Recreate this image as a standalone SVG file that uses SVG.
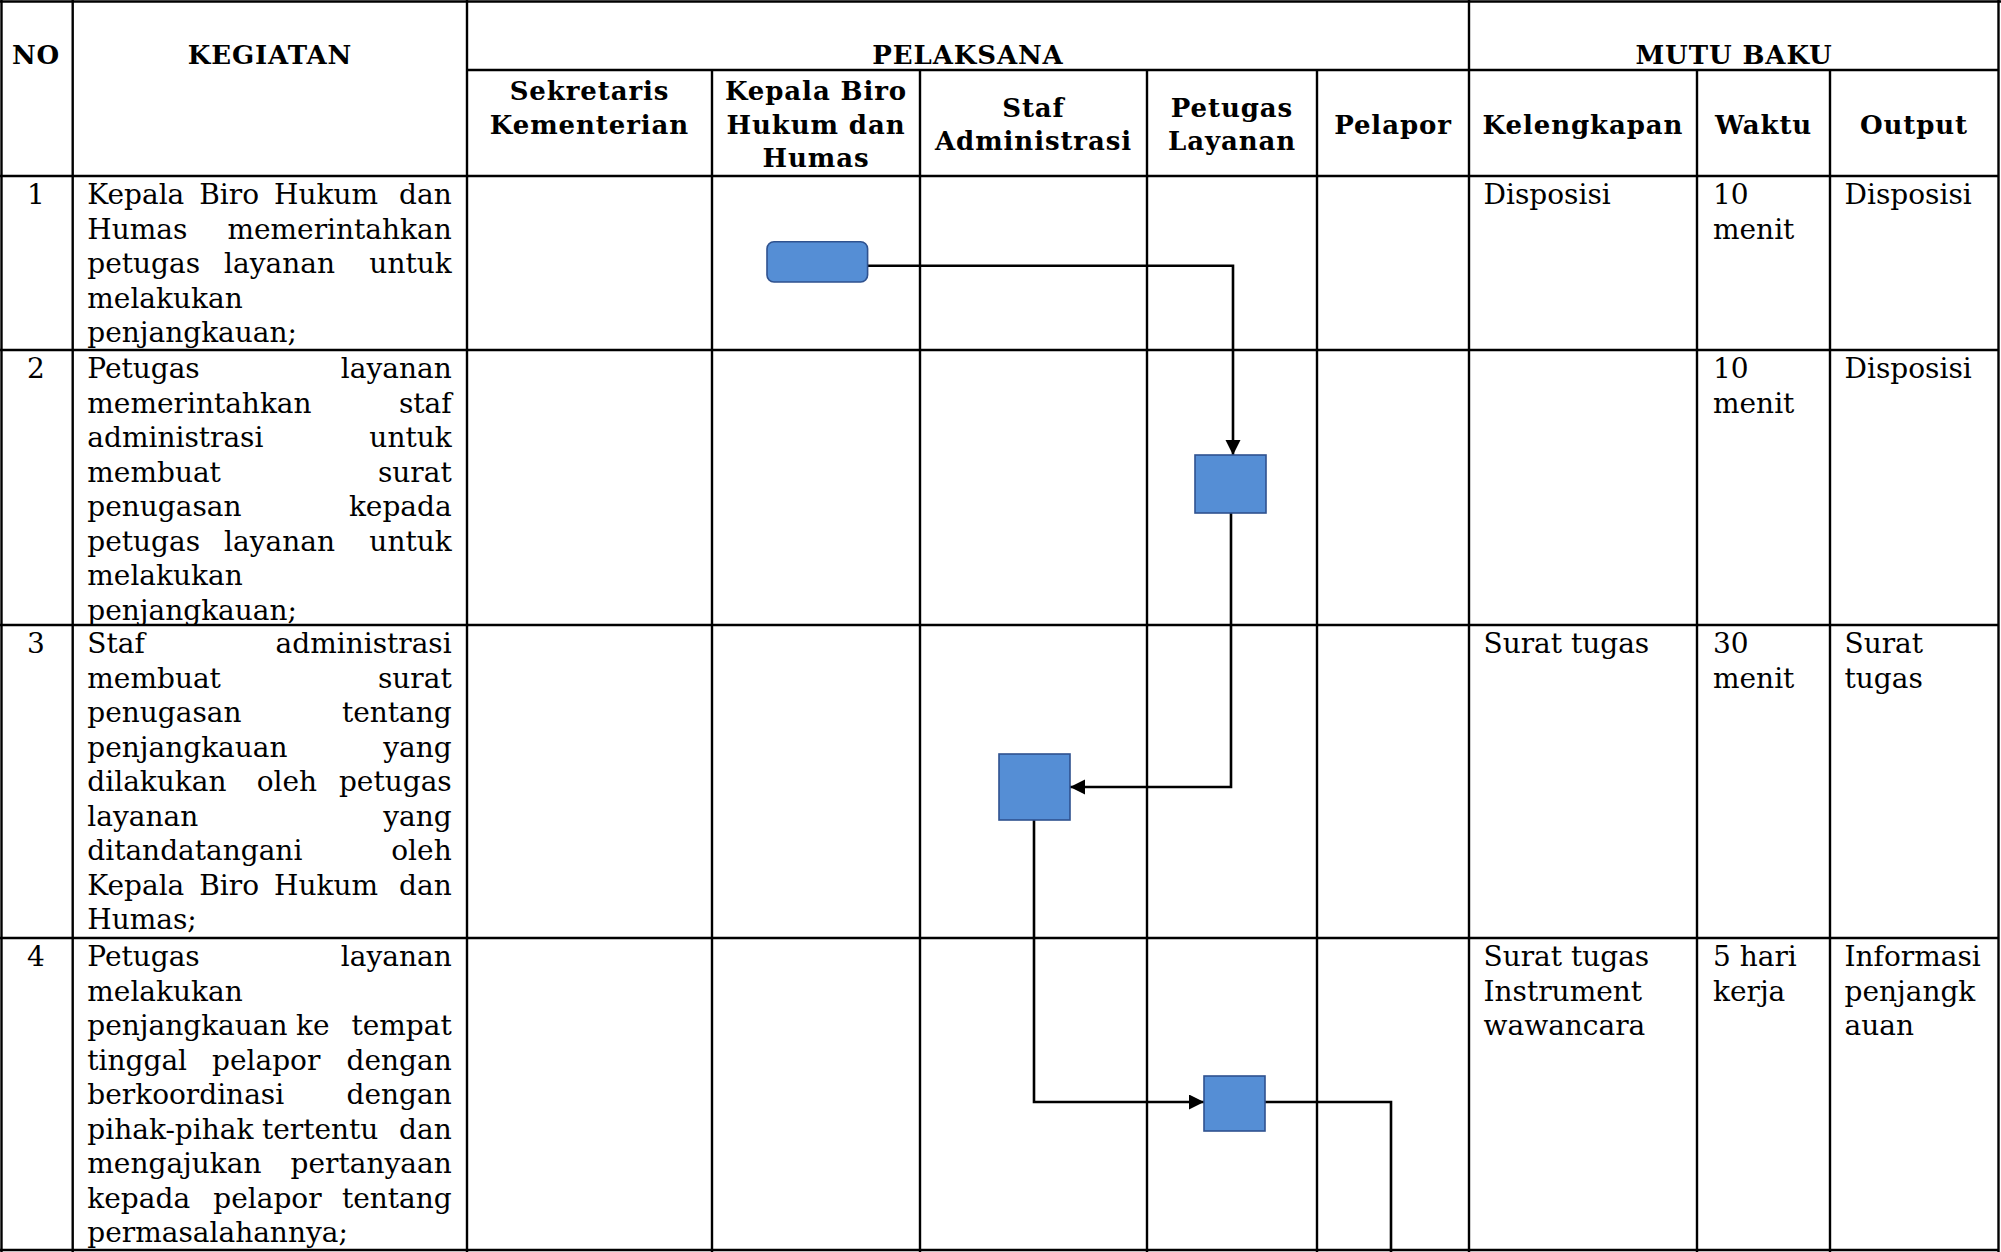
<svg xmlns="http://www.w3.org/2000/svg" width="2001" height="1252" viewBox="0 0 2001 1252">
<style>
.t{font-family:"DejaVu Serif","Liberation Serif",serif;font-size:28px;fill:#000}
.h{font-family:"DejaVu Serif","Liberation Serif",serif;font-size:26px;font-weight:bold;letter-spacing:0.9px;fill:#000;text-anchor:middle}
.c{text-anchor:middle}
.r{text-anchor:end}
.grid line{stroke:#000;stroke-width:2.4}
.node{fill:#558ED5;stroke:#2F528F;stroke-width:1.6}
.conn{fill:none;stroke:#000;stroke-width:2.6}
</style>
<defs>
<marker id="arr" markerUnits="userSpaceOnUse" markerWidth="16" markerHeight="16" refX="15" refY="7.5" orient="auto">
<path d="M0,0 L15,7.5 L0,15 z" fill="#000"/>
</marker>
</defs>
<rect x="0" y="0" width="2001" height="1252" fill="#fff"/>
<g id="table" class="grid">
<line x1="0" y1="1.5" x2="2001" y2="1.5"/>
<line x1="467" y1="70" x2="1999" y2="70"/>
<line x1="0" y1="176" x2="1999" y2="176"/>
<line x1="0" y1="350" x2="1999" y2="350"/>
<line x1="0" y1="625" x2="1999" y2="625"/>
<line x1="0" y1="938" x2="1999" y2="938"/>
<line x1="0" y1="1250" x2="1999" y2="1250"/>
<line x1="1.5" y1="0" x2="1.5" y2="1252"/>
<line x1="72.7" y1="0" x2="72.7" y2="1252"/>
<line x1="467" y1="0" x2="467" y2="1252"/>
<line x1="1469" y1="0" x2="1469" y2="1252"/>
<line x1="1998.5" y1="0" x2="1998.5" y2="1252"/>
<line x1="712" y1="70" x2="712" y2="1252"/>
<line x1="920" y1="70" x2="920" y2="1252"/>
<line x1="1147" y1="70" x2="1147" y2="1252"/>
<line x1="1317" y1="70" x2="1317" y2="1252"/>
<line x1="1697" y1="70" x2="1697" y2="1252"/>
<line x1="1830" y1="70" x2="1830" y2="1252"/>
</g>
<g id="header">
<text class="h" x="36" y="64">NO</text>
<text class="h" x="270" y="64">KEGIATAN</text>
<text class="h" x="968" y="64">PELAKSANA</text>
<text class="h" x="1734" y="64">MUTU BAKU</text>
<text class="h" x="589.5" y="100">Sekretaris</text>
<text class="h" x="589.5" y="133.5">Kementerian</text>
<text class="h" x="816" y="100">Kepala Biro</text>
<text class="h" x="816" y="133.5">Hukum dan</text>
<text class="h" x="816" y="167">Humas</text>
<text class="h" x="1033.5" y="116.5">Staf</text>
<text class="h" x="1033.5" y="150">Administrasi</text>
<text class="h" x="1232" y="116.5">Petugas</text>
<text class="h" x="1232" y="150">Layanan</text>
<text class="h" x="1393" y="133.5">Pelapor</text>
<text class="h" x="1583" y="133.5">Kelengkapan</text>
<text class="h" x="1763.5" y="133.5">Waktu</text>
<text class="h" x="1914" y="133.5">Output</text>
</g>
<g id="row1">
<text class="t c" x="36" y="204">1</text>
<text class="t" y="204"><tspan x="87.3">Kepala</tspan><tspan x="199.3">Biro</tspan><tspan x="274">Hukum</tspan><tspan class="r" x="451.7">dan</tspan></text>
<text class="t" y="238.6"><tspan x="87.3">Humas</tspan><tspan class="r" x="451.7">memerintahkan</tspan></text>
<text class="t" y="273.2"><tspan x="87.3">petugas</tspan><tspan x="224">layanan</tspan><tspan class="r" x="451.7">untuk</tspan></text>
<text class="t" x="87.3" y="307.8">melakukan</text>
<text class="t" x="87.3" y="342.4">penjangkauan;</text>
<text class="t" x="1483.5" y="204">Disposisi</text>
<text class="t" x="1713" y="204">10</text>
<text class="t" x="1713" y="238.6">menit</text>
<text class="t" x="1844.5" y="204">Disposisi</text>
</g>
<g id="row2">
<text class="t c" x="36" y="378">2</text>
<text class="t" y="378"><tspan x="87.3">Petugas</tspan><tspan class="r" x="451.7">layanan</tspan></text>
<text class="t" y="412.5"><tspan x="87.3">memerintahkan</tspan><tspan class="r" x="451.7">staf</tspan></text>
<text class="t" y="447"><tspan x="87.3">administrasi</tspan><tspan class="r" x="451.7">untuk</tspan></text>
<text class="t" y="481.5"><tspan x="87.3">membuat</tspan><tspan class="r" x="451.7">surat</tspan></text>
<text class="t" y="516"><tspan x="87.3">penugasan</tspan><tspan class="r" x="451.7">kepada</tspan></text>
<text class="t" y="550.5"><tspan x="87.3">petugas</tspan><tspan x="224">layanan</tspan><tspan class="r" x="451.7">untuk</tspan></text>
<text class="t" x="87.3" y="585">melakukan</text>
<text class="t" x="87.3" y="619.5">penjangkauan;</text>
<text class="t" x="1713" y="378">10</text>
<text class="t" x="1713" y="412.5">menit</text>
<text class="t" x="1844.5" y="378">Disposisi</text>
</g>
<g id="row3">
<text class="t c" x="36" y="653">3</text>
<text class="t" y="653"><tspan x="87.3">Staf</tspan><tspan class="r" x="451.7">administrasi</tspan></text>
<text class="t" y="687.5"><tspan x="87.3">membuat</tspan><tspan class="r" x="451.7">surat</tspan></text>
<text class="t" y="722"><tspan x="87.3">penugasan</tspan><tspan class="r" x="451.7">tentang</tspan></text>
<text class="t" y="756.5"><tspan x="87.3">penjangkauan</tspan><tspan class="r" x="451.7">yang</tspan></text>
<text class="t" y="791"><tspan x="87.3">dilakukan</tspan><tspan x="256.7">oleh</tspan><tspan class="r" x="451.7">petugas</tspan></text>
<text class="t" y="825.5"><tspan x="87.3">layanan</tspan><tspan class="r" x="451.7">yang</tspan></text>
<text class="t" y="860"><tspan x="87.3">ditandatangani</tspan><tspan class="r" x="451.7">oleh</tspan></text>
<text class="t" y="894.5"><tspan x="87.3">Kepala</tspan><tspan x="199.3">Biro</tspan><tspan x="274">Hukum</tspan><tspan class="r" x="451.7">dan</tspan></text>
<text class="t" x="87.3" y="929">Humas;</text>
<text class="t" x="1483.5" y="653">Surat tugas</text>
<text class="t" x="1713" y="653">30</text>
<text class="t" x="1713" y="687.5">menit</text>
<text class="t" x="1844.5" y="653">Surat</text>
<text class="t" x="1844.5" y="687.5">tugas</text>
</g>
<g id="row4">
<text class="t c" x="36" y="966">4</text>
<text class="t" y="966"><tspan x="87.3">Petugas</tspan><tspan class="r" x="451.7">layanan</tspan></text>
<text class="t" x="87.3" y="1000.5">melakukan</text>
<text class="t" y="1035"><tspan x="87.3">penjangkauan</tspan><tspan x="296">ke</tspan><tspan class="r" x="451.7">tempat</tspan></text>
<text class="t" y="1069.5"><tspan x="87.3">tinggal</tspan><tspan x="212">pelapor</tspan><tspan class="r" x="451.7">dengan</tspan></text>
<text class="t" y="1104"><tspan x="87.3">berkoordinasi</tspan><tspan class="r" x="451.7">dengan</tspan></text>
<text class="t" y="1138.5"><tspan x="87.3">pihak-pihak</tspan><tspan x="262">tertentu</tspan><tspan class="r" x="451.7">dan</tspan></text>
<text class="t" y="1173"><tspan x="87.3">mengajukan</tspan><tspan class="r" x="451.7">pertanyaan</tspan></text>
<text class="t" y="1207.5"><tspan x="87.3">kepada</tspan><tspan x="213.3">pelapor</tspan><tspan class="r" x="451.7">tentang</tspan></text>
<text class="t" x="87.3" y="1242">permasalahannya;</text>
<text class="t" x="1483.5" y="966">Surat tugas</text>
<text class="t" x="1483.5" y="1000.5">Instrument</text>
<text class="t" x="1483.5" y="1035">wawancara</text>
<text class="t" x="1713" y="966">5 hari</text>
<text class="t" x="1713" y="1000.5">kerja</text>
<text class="t" x="1844.5" y="966">Informasi</text>
<text class="t" x="1844.5" y="1000.5">penjangk</text>
<text class="t" x="1844.5" y="1035">auan</text>
</g>
<g id="connectors">
<path class="conn" d="M868,265.7 H1233 V455" marker-end="url(#arr)"/>
<path class="conn" d="M1231,513 V787 H1070" marker-end="url(#arr)"/>
<path class="conn" d="M1034,820 V1102 H1204" marker-end="url(#arr)"/>
<path class="conn" d="M1265,1102 H1391 V1252"/>
</g>
<g id="node1"><rect class="node" x="767" y="241.7" width="100.6" height="40.3" rx="7"/></g>
<g id="node2"><rect class="node" x="1195" y="455" width="71" height="58"/></g>
<g id="node3"><rect class="node" x="999" y="754" width="71" height="66"/></g>
<g id="node4"><rect class="node" x="1204" y="1076" width="61" height="55"/></g>
</svg>
